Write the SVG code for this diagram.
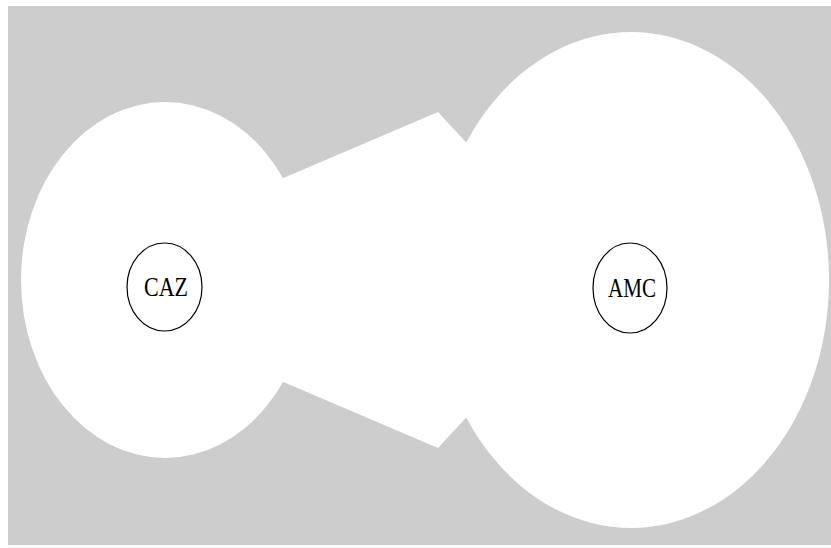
<svg xmlns="http://www.w3.org/2000/svg" width="831" height="548" viewBox="0 0 831 548">
  <style>
    .halo { fill: #ffffff; stroke: none; }
    .node { fill: #ffffff; stroke: #000000; stroke-width: 1.2; }
    .label { font-family: "Liberation Serif", "Times New Roman", serif; font-size: 27px; fill: #000000; text-anchor: middle; }
  </style>
  <rect x="0" y="0" width="831" height="548" fill="#ffffff"/>
  <rect x="8" y="6" width="823" height="539" fill="#cdcdcd"/>

  <!-- connector band between the two regions -->
  <g id="connectors">
    <polygon class="halo" points="281,179 438,112 476,153 476,407 438,448 281,381"/>
  </g>

  <g id="region-caz">
    <ellipse class="halo" cx="165" cy="280" rx="144" ry="178"/>
  </g>
  <g id="region-amc">
    <ellipse class="halo" cx="631" cy="280" rx="198" ry="248"/>
  </g>

  <g id="node-caz">
    <ellipse class="node" cx="164.5" cy="287" rx="37.5" ry="44"/>
    <text class="label" x="166" y="296" textLength="44" lengthAdjust="spacingAndGlyphs">CAZ</text>
  </g>
  <g id="node-amc">
    <ellipse class="node" cx="630" cy="288" rx="37" ry="45"/>
    <text class="label" x="632" y="297" textLength="48" lengthAdjust="spacingAndGlyphs">AMC</text>
  </g>
</svg>
